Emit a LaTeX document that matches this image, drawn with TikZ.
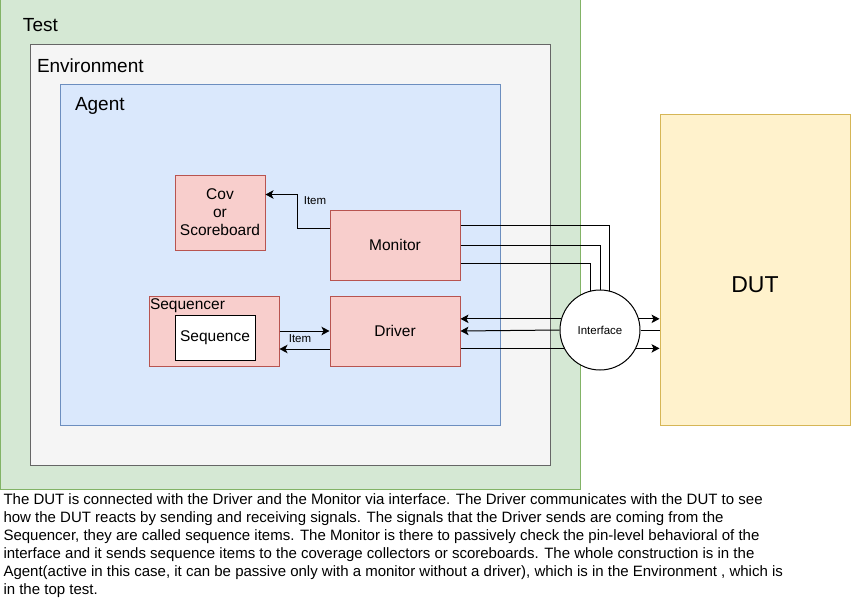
\documentclass[tikz,border=0pt]{standalone}
\usepackage{fontspec}
\setmainfont{Liberation Sans}
\usetikzlibrary{arrows.meta,positioning}
\definecolor{testfill}{HTML}{D5E8D4}
\definecolor{testline}{HTML}{82B366}
\definecolor{envfill}{HTML}{F5F5F5}
\definecolor{envline}{HTML}{666666}
\definecolor{agentfill}{HTML}{DAE8FC}
\definecolor{agentline}{HTML}{6C8EBF}
\definecolor{compfill}{HTML}{F8CECC}
\definecolor{compline}{HTML}{B85450}
\definecolor{dutfill}{HTML}{FFF2CC}
\definecolor{dutline}{HTML}{D6B656}

\begin{document}
\begin{tikzpicture}[x=1pt,y=-1pt,-,line width=1pt,
                    container/.style={rectangle,draw,inner sep=0pt},
                    comp node/.style={rectangle,draw=compline,fill=compfill,inner sep=0pt,align=center,font=\fontsize{15.5}{18}\selectfont},
                    title/.style={anchor=west,inner sep=0pt,font=\fontsize{19}{22}\selectfont},
                    small/.style={inner sep=0pt,font=\fontsize{11.5}{13}\selectfont},
                    arr/.style={-{Stealth[length=8pt,width=8.5pt,inset=2pt]}}]
  \useasboundingbox (0,0) rectangle (851,599);

  %Containers%
  \node[container,draw=testline,fill=testfill,minimum width=580pt,minimum height=489pt] (test) at (290,244.5) {};
  \node[container,draw=envline,fill=envfill,minimum width=520pt,minimum height=420pt] (env) at (290,255) {};
  \node[container,draw=agentline,fill=agentfill,minimum width=440pt,minimum height=340pt] (agent) at (280,255) {};
  \node[title] (testlabel) at ([shift={(23,26)}]test.north west) {Test};
  \node[title] (envlabel) at ([shift={(7,21)}]env.north west) {Environment};
  \node[title] (agentlabel) at ([shift={(15,21)}]agent.north west) {Agent};

  %Agent parts%
  \node[comp node,minimum width=90pt,minimum height=75pt] (cov) at (220,212.5) {Cov\\or\\Scoreboard};
  \node[comp node,minimum width=130pt,minimum height=70pt] (mon) at (395,245) {Monitor};
  \node[comp node,minimum width=130pt,minimum height=70pt] (drv) [below=15pt of mon] {Driver};
  \node[comp node,minimum width=130pt,minimum height=70pt] (seqr) [left=50pt of drv] {};
  \node[anchor=west,inner sep=0pt,font=\fontsize{15.5}{18}\selectfont] (seqrlabel) at ([shift={(1,-25)}]seqr.west) {Sequencer};
  \node[rectangle,draw,fill=white,minimum width=80pt,minimum height=45pt,font=\fontsize{15.5}{18}\selectfont] (seq) at (215,338) {Sequence};

  %DUT side%
  \node[container,draw=dutline,fill=dutfill,minimum width=190pt,minimum height=310pt] (dut) at (755,270) {};
  \node[inner sep=0pt,font=\fontsize{23}{27}\selectfont] (dutlabel) at (755,285) {DUT};
  \node[circle,draw,fill=white,minimum size=80pt,inner sep=0pt,font=\fontsize{11.5}{13}\selectfont] (iface) at (600,330) {Interface};

  %Connections%
  \draw[arr] ([yshift=17pt]mon.west) -- ++(-32,0) |- ([yshift=18pt]cov.east);
  \node[small] (item1) at (315,201) {Item};
  \draw[arr] (seqr.east) -- (drv.west);
  \draw[arr] ([yshift=-18pt]drv.west) -- ([yshift=-18pt]seqr.east);
  \node[small] (item2) at (300,339) {Item};

  \draw ([yshift=20pt]mon.east) -| (iface.76);
  \draw (mon.east) -| (iface.north);
  \draw ([yshift=-18pt]mon.east) -| (iface.104);

  \draw[arr] (iface.164) -- (iface.164 -| drv.east);
  \draw[arr] (iface.west) -- (drv.east);
  \draw (drv.east |- iface.207) -- (iface.207);
  \draw[arr] (iface.16) -- (iface.16 -| dut.west);
  \draw (iface.east) -- (iface.east -| dut.west);
  \draw[arr] (iface.333) -- (iface.333 -| dut.west);

  %Caption%
  \node[anchor=north west,inner sep=0pt,align=left,font=\fontsize{15}{18}\selectfont] (caption) at (3,493)
    {The DUT is connected with the Driver and the Monitor via interface. The Driver communicates with the DUT to see\\
     how the DUT reacts by sending and receiving signals. The signals that the Driver sends are coming from the\\
     Sequencer, they are called sequence items. The Monitor is there to passively check the pin-level behavioral of the\\
     interface and it sends sequence items to the coverage collectors or scoreboards. The whole construction is in the\\
     Agent(active in this case, it can be passive only with a monitor without a driver), which is in the Environment , which is\\
     in the top test.};
\end{tikzpicture}
\end{document}
